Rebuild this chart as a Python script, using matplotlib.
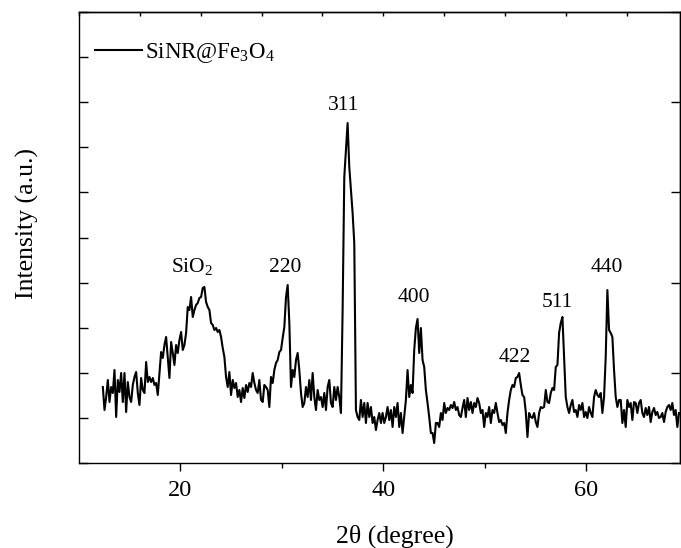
import numpy as np
import matplotlib
matplotlib.use('Agg')
import matplotlib.pyplot as plt

plt.rcParams['font.family'] = 'Liberation Serif'
plt.rcParams['mathtext.fontset'] = 'custom'
plt.rcParams['mathtext.rm'] = 'Liberation Serif'
plt.rcParams['mathtext.it'] = 'Liberation Serif:italic'

# XRD scan, 2theta from 12.35 to 69.16 deg in even steps
scan_start = 12.35
scan_end = 69.16

# intensity (a.u.), split into pieces along the scan
int_12_21 = [76, 53, 66, 83, 61, 76, 70, 93, 46, 83,
             71, 90, 61, 90, 51, 81, 66, 61, 78, 86,
             91, 70, 58, 85, 73, 70, 101, 81, 86, 81,
             85, 78, 80, 68, 90, 111, 105, 118, 126, 106,
             85, 121, 110, 98, 118, 110, 123, 131, 113, 118,
             130, 156, 153, 166, 146, 153]
int_21_30 = [158, 160, 165, 166, 175, 176, 161, 156, 153, 140,
             138, 133, 135, 131, 133, 126, 115, 106, 86, 76,
             91, 68, 83, 75, 80, 66, 73, 61, 75, 65,
             78, 71, 80, 76, 90, 80, 73, 70, 83, 63,
             61, 78, 76, 73, 56, 86, 80, 93, 100, 103,
             111, 113, 125, 136, 166, 178, 140]
int_30_40 = [76, 93, 86, 103, 110, 93, 70, 56, 60, 76,
             66, 83, 63, 90, 66, 53, 73, 63, 66, 56,
             70, 53, 76, 83, 60, 56, 76, 63, 76, 66,
             50, 153, 286, 313, 340, 296, 273, 250, 220, 53,
             46, 43, 63, 46, 60, 40, 60, 46, 56, 40,
             46, 33, 43, 50, 40, 50, 40]
int_40_49 = [46, 56, 43, 53, 36, 56, 46, 60, 36, 50,
             30, 46, 63, 93, 66, 78, 70, 113, 135, 144,
             110, 135, 103, 96, 73, 60, 46, 30, 30, 20,
             40, 40, 36, 50, 43, 60, 50, 55, 53, 58,
             55, 61, 53, 56, 48, 46, 55, 63, 46, 65,
             53, 61, 50, 60, 56, 65, 60]
int_49_59 = [50, 53, 36, 50, 46, 56, 40, 53, 50, 60,
             50, 41, 43, 38, 40, 30, 50, 63, 73, 78,
             76, 85, 86, 90, 78, 68, 66, 51, 26, 50,
             46, 45, 50, 41, 36, 50, 56, 55, 56, 73,
             61, 60, 70, 75, 73, 96, 98, 130, 140, 146,
             106, 66, 56, 50, 58, 63, 51]
int_59_69 = [53, 46, 58, 53, 60, 46, 51, 45, 56, 50,
             46, 66, 73, 68, 66, 70, 50, 66, 106, 173,
             133, 130, 126, 93, 66, 56, 63, 63, 40, 53,
             36, 63, 56, 60, 43, 61, 60, 50, 60, 63,
             50, 46, 55, 48, 56, 41, 51, 55, 48, 51,
             45, 46, 50, 41, 51, 56, 58, 53, 60, 48,
             53, 36, 50]

intensity = np.array(int_12_21 + int_21_30 + int_30_40 + int_40_49 + int_49_59 + int_59_69)
two_theta = np.linspace(scan_start, scan_end, len(intensity))

peak_labels = ['SiO$_2$', '220', '311', '400', '422', '511', '440']
peak_x = [21.2, 30.35, 36.1, 43.05, 53.0, 57.15, 62.05]
peak_y = [191, 191, 353, 161, 101, 156, 191]

fig = plt.figure(figsize=(6.81, 5.48), dpi=100)
ax = fig.add_axes([79 / 681, 85 / 548, 601 / 681, 451 / 548])

ax.plot(two_theta, intensity, color='black', lw=1.5, label='SiNR@Fe$_3$O$_4$')

for lab, px, py in zip(peak_labels, peak_x, peak_y):
    ax.text(px, py, lab, ha='center', va='baseline', fontsize=15.5)

ax.set_xlim(10, 69.26)
ax.set_ylim(0, 451)
ax.set_xticks([20, 40, 60])
ax.set_xticks([30, 50], minor=True)
ax.set_yticks(np.linspace(0, 451, 11))
ax.tick_params(axis='x', which='major', direction='out', length=6, width=1, labelsize=17.5, pad=6.5)
ax.tick_params(axis='x', which='minor', direction='out', length=3.5, width=1)
ax.tick_params(axis='y', direction='in', length=6.5, width=1, labelleft=False)

# top and right axes have their own tick spacing
top = ax.secondary_xaxis('top')
top.set_xticks(np.arange(10, 71, 6))
top.tick_params(direction='in', length=3, width=1, labeltop=False)
right = ax.secondary_yaxis('right')
right.set_yticks(np.linspace(0, 451, 6))
right.tick_params(direction='in', length=6.5, width=1, labelright=False)

for sp in list(ax.spines.values()) + [top.spines['top'], right.spines['right']]:
    sp.set_linewidth(1)

ax.set_xlabel('2θ (degree)', fontsize=18.5)
ax.set_ylabel('Intensity (a.u.)', fontsize=18.5)
ax.xaxis.set_label_coords(0.526, -0.162)
ax.xaxis.label.set_va('center')
ax.yaxis.set_label_coords(-0.0857, 0.532)
ax.yaxis.label.set_va('center')

ax.legend(loc='upper left', bbox_to_anchor=(0.0266, 0.936), frameon=False,
          fontsize=16.5, handlelength=2.05, handletextpad=0.15,
          borderpad=0, borderaxespad=0)

fig.savefig('out.png', dpi=100)
